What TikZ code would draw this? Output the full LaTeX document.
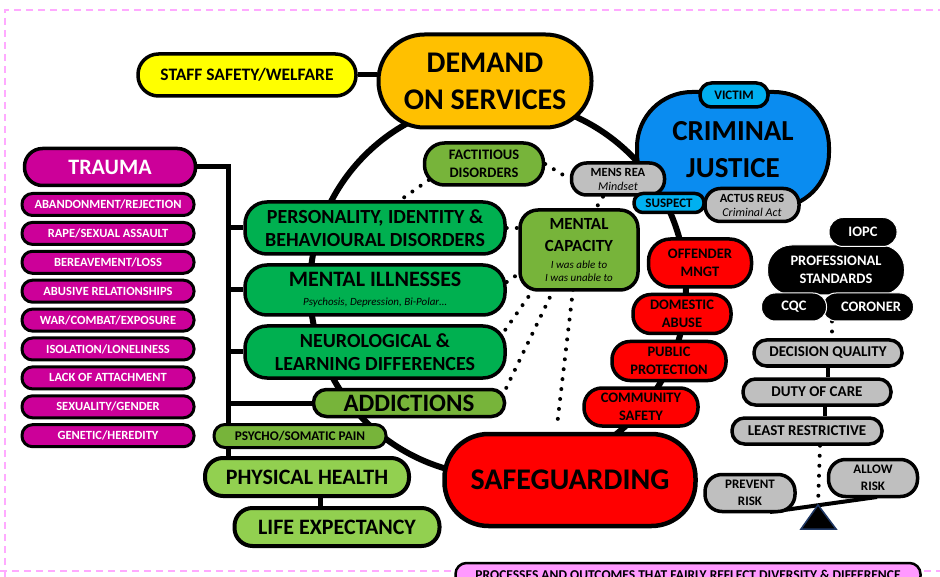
\documentclass[tikz,border=0pt]{standalone}
\usepackage{fontspec}
\setmainfont{Carlito}
\usetikzlibrary{calc}
\pgfdeclarelayer{bg}
\pgfsetlayers{bg,main}
\definecolor{cYel}{HTML}{FFFF00}
\definecolor{cOra}{HTML}{FFC000}
\definecolor{cMag}{HTML}{CC0099}
\definecolor{cGrn}{HTML}{00B050}
\definecolor{cLGrn}{HTML}{77B43A}
\definecolor{cPGrn}{HTML}{92D050}
\definecolor{cRed}{HTML}{FF0000}
\definecolor{cBlue}{HTML}{0A8CF0}
\definecolor{cLBlue}{HTML}{00B0F0}
\definecolor{cGray}{HTML}{BFBFBF}
\definecolor{cPink}{HTML}{FF99FF}
\definecolor{cBorder}{HTML}{FFAAFF}
\definecolor{cTri}{HTML}{1F3864}
\newcommand\fz[2]{\fontsize{#1}{#2}\selectfont}
\tikzset{
  box/.style={draw=black, line width=3.5pt, align=center, inner sep=0pt, font=\bfseries},
  blk/.style={draw=white, line width=1pt, fill=black, text=white, align=center, inner sep=0pt},
  tri/.style={box, fill=cMag, text=white, line width=3pt, minimum width=172pt, minimum height=22pt, rounded corners=10.5pt, font=\bfseries\fz{12.5}{14}},
  ln/.style={line width=5pt},
  dotline/.style={line width=4pt, line cap=round, dash pattern=on 0pt off 10pt},
}
\begin{document}
\begin{tikzpicture}[x=1pt, y=-1pt]
\useasboundingbox (0,0) rectangle (940,577);

% ---------- top ----------
\node[box, fill=cOra, line width=4pt, minimum width=213pt, minimum height=93pt, rounded corners=46pt, font=\bfseries\fz{30}{37}] (dem) at (485,81) {DEMAND\\ON SERVICES};
\node[box, fill=cYel, minimum width=218pt, minimum height=42pt, rounded corners=20.5pt, font=\bfseries\fz{17.5}{20}] (staff) at (247,75) {STAFF SAFETY/WELFARE};

% ---------- criminal justice ----------
\node[box, fill=cBlue, line width=4pt, minimum width=192pt, minimum height=116pt, rounded corners=55pt, font=\bfseries\fz{29}{37}] (cj) at (733,150) {CRIMINAL\\JUSTICE};
\node[box, fill=cLBlue, minimum width=68pt, minimum height=24pt, rounded corners=11.5pt, font=\bfseries\fz{13}{15}] (victim) at (734,95) {VICTIM};
\node[box, fill=cGray, minimum width=93pt, minimum height=32pt, rounded corners=15pt, font=\bfseries\fz{12.5}{14}] (mens) at (618,179) {MENS REA\\{\mdseries\itshape\fz{12}{14}Mindset}};
\node[box, fill=cGray, minimum width=94pt, minimum height=33pt, rounded corners=15.5pt, font=\bfseries\fz{12.5}{14}] (actus) at (752,205) {ACTUS REUS\\{\mdseries\itshape\fz{12}{14}Criminal Act}};
\node[box, fill=cLBlue, minimum width=70pt, minimum height=19pt, rounded corners=9pt, font=\bfseries\fz{13}{15}] (suspect) at (669,203) {SUSPECT};

% ---------- trauma ----------
\node[box, fill=cMag, text=white, minimum width=171pt, minimum height=37pt, rounded corners=18pt, font=\bfseries\fz{22}{24}] (trauma) at (110,167) {TRAUMA};
\node[tri] (tr1) at (108,204.5) {ABANDONMENT/REJECTION};
\node[tri] (tr2) at (108,233.4) {RAPE/SEXUAL ASSAULT};
\node[tri] (tr3) at (108,262.3) {BEREAVEMENT/LOSS};
\node[tri] (tr4) at (108,291.2) {ABUSIVE RELATIONSHIPS};
\node[tri] (tr5) at (108,320.1) {WAR/COMBAT/EXPOSURE};
\node[tri] (tr6) at (108,349) {ISOLATION/LONELINESS};
\node[tri] (tr7) at (108,377.9) {LACK OF ATTACHMENT};
\node[tri] (tr8) at (108,406.8) {SEXUALITY/GENDER};
\node[tri] (tr9) at (108,435.7) {GENETIC/HEREDITY};

% ---------- green ----------
\node[box, fill=cLGrn, minimum width=119pt, minimum height=42pt, rounded corners=20pt, font=\bfseries\fz{14.5}{18}] (fact) at (484,164) {FACTITIOUS\\DISORDERS};
\node[box, fill=cLGrn, minimum width=118pt, minimum height=80pt, rounded corners=18pt, font=\bfseries\fz{17}{22}] (mcap) at (579,250) {MENTAL\\CAPACITY\\[-5pt]{\mdseries\itshape\fz{11}{13}I was able to}\\[-9pt]{\mdseries\itshape\fz{11}{13}I was unable to}};
\node[box, fill=cGrn, minimum width=260pt, minimum height=52pt, rounded corners=22pt, font=\bfseries\fz{20}{23}] (pers) at (375,228) {PERSONALITY, IDENTITY \&\\BEHAVIOURAL DISORDERS};
\node[box, fill=cGrn, minimum width=260pt, minimum height=50pt, rounded corners=22pt, font=\bfseries\fz{22}{22}] (mill) at (375,290) {MENTAL ILLNESSES\\[-3pt]{\mdseries\itshape\fz{11}{12}Psychosis, Depression, Bi-Polar…}};
\node[box, fill=cGrn, minimum width=260pt, minimum height=52pt, rounded corners=22pt, font=\bfseries\fz{20}{23}] (neur) at (375,352) {NEUROLOGICAL \&\\LEARNING DIFFERENCES};
\node[box, fill=cLGrn, minimum width=191pt, minimum height=27pt, rounded corners=13pt, font=\bfseries\fz{25}{25}] (addic) at (409,403) {ADDICTIONS};
\node[box, fill=cLGrn, line width=3pt, minimum width=172pt, minimum height=23pt, rounded corners=11pt, font=\bfseries\fz{13.3}{14}] (psycho) at (300,436) {PSYCHO/SOMATIC PAIN};
\node[box, fill=cPGrn, line width=4pt, minimum width=204pt, minimum height=38pt, rounded corners=18pt, font=\bfseries\fz{22}{24}] (phys) at (307,477) {PHYSICAL HEALTH};
\node[box, fill=cPGrn, line width=4pt, minimum width=205pt, minimum height=38pt, rounded corners=18pt, font=\bfseries\fz{22}{24}] (life) at (337,527) {LIFE EXPECTANCY};

% ---------- red ----------
\node[box, fill=cRed, minimum width=103pt, minimum height=48pt, rounded corners=22pt, font=\bfseries\fz{14.5}{18}] (off) at (700,263) {OFFENDER\\MNGT};
\node[box, fill=cRed, minimum width=98pt, minimum height=39pt, rounded corners=18pt, font=\bfseries\fz{14.5}{18}] (dom) at (682,314) {DOMESTIC\\ABUSE};
\node[box, fill=cRed, minimum width=114pt, minimum height=39pt, rounded corners=18pt, font=\bfseries\fz{14.5}{18}] (pub) at (669,361) {PUBLIC\\PROTECTION};
\node[box, fill=cRed, minimum width=114pt, minimum height=38pt, rounded corners=18pt, font=\bfseries\fz{14.5}{18}] (com) at (641,407) {COMMUNITY\\SAFETY};
\node[box, fill=cRed, line width=4.5pt, minimum width=251pt, minimum height=92pt, rounded corners=44pt, font=\bfseries\fz{30}{34}] (safe) at (570,480) {SAFEGUARDING};

% ---------- black ----------
\node[blk, minimum width=137pt, minimum height=50pt, rounded corners=24pt, font=\bfseries\fz{14.5}{18}] (ps) at (836,270) {PROFESSIONAL\\STANDARDS};
\node[blk, minimum width=68pt, minimum height=29pt, rounded corners=14pt, font=\bfseries\fz{14.5}{18}] (iopc) at (863,232) {IOPC};
\node[blk, minimum width=91pt, minimum height=28pt, rounded corners=13.5pt, font=\bfseries\fz{14.5}{18}] (cor) at (868,307) {\hspace{6pt}CORONER};
\node[blk, minimum width=65pt, minimum height=28pt, rounded corners=13.5pt, font=\bfseries\fz{14.5}{18}] (cqc) at (794,307) {CQC};

% ---------- gray ----------
\node[box, fill=cGray, minimum width=148pt, minimum height=26pt, rounded corners=12.5pt, font=\bfseries\fz{15}{17}] (dq) at (828,353) {DECISION QUALITY};
\node[box, fill=cGray, minimum width=148pt, minimum height=26pt, rounded corners=12.5pt, font=\bfseries\fz{15}{17}] (doc) at (817,392) {DUTY OF CARE};
\node[box, fill=cGray, minimum width=150pt, minimum height=26pt, rounded corners=12.5pt, font=\bfseries\fz{15}{17}] (lr) at (807,431) {LEAST RESTRICTIVE};
\node[box, fill=cGray, minimum width=90pt, minimum height=37pt, rounded corners=17pt, font=\bfseries\fz{13}{17}] (prev) at (750,493) {PREVENT\\RISK};
\node[box, fill=cGray, minimum width=89pt, minimum height=37pt, rounded corners=17pt, font=\bfseries\fz{13}{17}] (allow) at (873,478) {ALLOW\\RISK};

% ---------- bottom banner ----------
\node[box, fill=cPink, line width=2.5pt, minimum width=465pt, minimum height=24pt, rounded corners=11pt, font=\bfseries\fz{13.5}{15}] (proc) at (688,575) {PROCESSES AND OUTCOMES THAT FAIRLY REFLECT DIVERSITY \& DIFFERENCE};

% ---------- scale ----------
\coordinate (apex) at (818,505);
\coordinate (baseL) at (801,529);
\coordinate (baseR) at (836,529);
\coordinate (beamL) at (770,512);
\coordinate (beamR) at (877,497);
\draw[fill=black, draw=cTri, line width=1.5pt, line join=miter] (apex) -- (baseL) -- (baseR) -- cycle;

% ---------- background and connectors ----------
\begin{pgfonlayer}{bg}
  \fill[white] (0,0) rectangle (940,577);
  \draw[cBorder, line width=1.3pt, dash pattern=on 7pt off 5pt] (5,577) -- (5,10) -- (940,10);
  \draw[cBorder, line width=1.3pt, dash pattern=on 7pt off 5pt] (0,571) -- (940,571);
  \coordinate (hub) at (498,288);
  \draw[line width=6pt] (hub) circle (188pt);
  \draw[ln] (staff.east) -- (staff.east -| dem.west);
  \coordinate (bus) at (228,167);
  \draw[ln] (trauma.east) -- (bus) -- (bus |- phys.north);
  \draw[ln] (bus |- pers.west) -- (pers.west);
  \draw[ln] (bus |- mill.west) -- (mill.west);
  \draw[ln] (bus |- neur.west) -- (neur.west);
  \draw[ln] (bus |- addic.west) -- (addic.west);
  \draw[ln] ($(phys.south)+(13,0)$) -- ($(life.north)+(-17,0)$);
  \draw[line width=4pt] (dq.south) -- (dq.south |- doc.north);
  \draw[line width=4pt] ($(doc.south)+(8,0)$) -- ($(lr.north)+(18,0)$);
  \draw[line width=4pt] (beamL) -- (beamR);
  % dotted
  \draw[dotline] (fact.east) -- (mens.west);
  \draw[dotline] ($(fact.west)+(6,16)$) -- ($(pers.north)+(25,0)$);
  \draw[dotline] ($(mens.south)+(-15,0)$) -- ($(mcap.north)+(17,0)$);
  \draw[dotline] (pers.east) -- (pers.east -| mcap.west);
  \draw[dotline] ($(mill.east)+(0,-8)$) -- ($(mcap.west)+(0,24)$);
  \draw[dotline] ($(mcap.south)+(-45,-3)$) -- ($(neur.east)+(-3,-20)$);
  \draw[dotline] ($(mcap.south)+(-25,-3)$) -- ($(addic.east)+(-2,-11)$);
  \draw[dotline] ($(mcap.south)+(-6,-2)$) -- ($(safe.north)+(-13,-6)$);
  \draw[dotline] ($(cor.south)+(-36,0)$) -- ($(dq.north)+(4,0)$);
  \draw[dotline] ($(lr.south)+(13,0)$) -- (apex);
\end{pgfonlayer}
\end{tikzpicture}
\end{document}
